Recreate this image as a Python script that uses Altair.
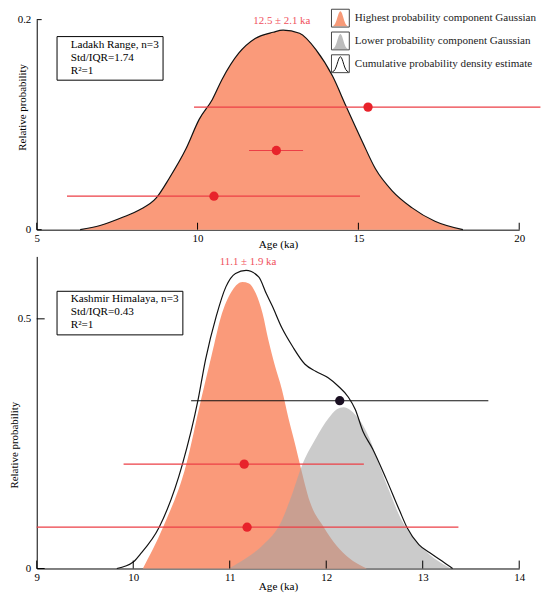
import altair as alt
import pandas as pd

FONT = "Liberation Serif"
ORANGE = "#fa9a7a"
GRAY = "#a3a3a3"
RED_LINE = "#ec3f46"
RED_DOT = "#e8232b"
RED_TEXT = "#f0505c"
BLACK = "#111111"
DOT_BLACK = "#1a0f22"

# ---------------- Top panel: Ladakh Range ----------------
top_age = [6.35, 6.97, 7.69, 8.20, 8.71, 9.12, 9.64, 10.05, 10.46, 10.76, 11.28, 11.79,
           12.35, 12.66, 13.17, 13.69, 14.20, 14.61, 15.12, 15.53, 16.05, 16.66, 17.38, 18.25]
top_prob = [0.0, 0.004, 0.012, 0.019, 0.030, 0.049, 0.077, 0.105, 0.124, 0.143, 0.168, 0.182,
            0.188, 0.190, 0.187, 0.171, 0.146, 0.118, 0.084, 0.058, 0.037, 0.021, 0.008, 0.0]
top_bar_age = [15.30, 12.45, 10.51]
top_bar_lo = [9.89, 11.60, 5.94]
top_bar_hi = [20.66, 13.28, 15.05]
top_bar_prob = [0.1167, 0.0754, 0.0319]
top_peak_label = ["12.5 ± 2.1 ka"]
top_peak_age = [12.62]
top_peak_prob = [0.199]
top_info = ["Ladakh Range, n=3" + "\u00a0" * 14, "Std/IQR=1.74", "R²=1"]
top_xticks = [5, 10, 15, 20]
top_yticks = [0, 0.2]

# ---------------- Bottom panel: Kashmir Himalaya ----------------
bot_hi_age = [10.10, 10.31, 10.55, 10.70, 10.81, 10.92, 11.03, 11.13, 11.20, 11.27, 11.34,
              11.40, 11.47, 11.54, 11.61, 11.68, 11.73, 11.83, 11.97, 12.11, 12.23, 12.42]
bot_hi_prob = [0.0, 0.083, 0.209, 0.336, 0.425, 0.511, 0.558, 0.574, 0.571, 0.551, 0.511,
               0.458, 0.405, 0.359, 0.300, 0.247, 0.207, 0.134, 0.084, 0.045, 0.022, 0.0]
bot_lo_age = [10.99, 11.18, 11.35, 11.53, 11.63, 11.75, 11.89, 12.02, 12.11, 12.18, 12.31,
              12.45, 12.55, 12.67, 12.77, 12.90, 13.07, 13.29]
bot_lo_prob = [0.0, 0.022, 0.048, 0.092, 0.140, 0.207, 0.260, 0.300, 0.319, 0.323, 0.306,
               0.260, 0.207, 0.147, 0.101, 0.062, 0.028, 0.0]
bot_cum_age = [9.83, 10.00, 10.07, 10.27, 10.51, 10.67, 10.75, 10.86, 10.96, 11.06, 11.17,
               11.30, 11.38, 11.44, 11.54, 11.65, 11.78, 11.89, 12.02, 12.12, 12.23, 12.30,
               12.38, 12.48, 12.62, 12.76, 12.84, 12.96, 13.07, 13.20, 13.31]
bot_cum_prob = [0.0, 0.013, 0.028, 0.083, 0.209, 0.336, 0.419, 0.505, 0.564, 0.591, 0.597,
                0.584, 0.550, 0.526, 0.482, 0.445, 0.409, 0.395, 0.382, 0.366, 0.343, 0.319,
                0.275, 0.240, 0.180, 0.116, 0.081, 0.048, 0.032, 0.015, 0.0]
bot_bar_age = [12.14, 11.15, 11.18]
bot_bar_lo = [10.60, 9.90, 9.00]
bot_bar_hi = [13.68, 12.39, 13.37]
bot_bar_prob = [0.336, 0.209, 0.0827]
bot_bar_kind = ["cumulative", "highest", "highest"]
bot_peak_label = ["11.1 ± 1.9 ka"]
bot_peak_age = [11.19]
bot_peak_prob = [0.614]
bot_info = ["Kashmir Himalaya, n=3" + "\u00a0" * 7, "Std/IQR=0.43", "R²=1"]
bot_xticks = [9, 10, 11, 12, 13, 14]
bot_yticks = [0, 0.5]

legend_labels = ["Highest probability component Gaussian",
                 "Lower probability component Gaussian",
                 "Cumulative probability density estimate"]
bell_keys = ["a", "b", "c"]

TOP_W, TOP_H = 487, 212
BOT_W, BOT_H = 487, 315

BELL = "M-1,-1M1,1M-0.9,0.9C-0.42,0.9 -0.28,-0.78 0,-0.78C0.28,-0.78 0.42,0.9 0.9,0.9Z"
BELL_OPEN = "M-1,-1M1,1M-0.9,0.9C-0.42,0.9 -0.28,-0.78 0,-0.78C0.28,-0.78 0.42,0.9 0.9,0.9"
LEG_X, LEG_Y, LEG_ROWPAD = 297, -11.0, 0


def x_axis(values, title_y):
    return alt.Axis(values=values, title="Age (ka)", format="d", grid=False, ticks=False,
                    labelPadding=3, labelFont=FONT, labelFontSize=11, labelColor="black",
                    titleFont=FONT, titleFontSize=11.3, titleFontWeight="normal",
                    titleColor="black", titleY=title_y, titleBaseline="middle",
                    domainColor="black", domainWidth=1, labelFlush=False, labelOverlap=False)


def y_axis(values, title_x, title_y):
    return alt.Axis(values=values, title="Relative probability", format=".1~f", grid=False,
                    ticks=False, labelPadding=6, labelFont=FONT, labelFontSize=11,
                    labelColor="black", titleFont=FONT, titleFontSize=11,
                    titleFontWeight="normal", titleColor="black", titleX=title_x,
                    titleY=title_y, titleBaseline="middle", titleAngle=270,
                    domainColor="black", domainWidth=1, labelFlush=False, labelOverlap=False)


def info_layer(lines, ly):
    lg = alt.Legend(title=None, orient="none", legendX=20, legendY=ly, symbolSize=1,
                    symbolOpacity=0, symbolStrokeWidth=0, symbolOffset=0, labelOffset=0,
                    labelFont=FONT, labelFontSize=11.3, labelColor="black", rowPadding=1.2,
                    padding=3, strokeColor="black", fillColor="white", labelLimit=400)
    return alt.Chart(pd.DataFrame({"line": lines})).mark_point(
        filled=True, opacity=1, size=1).encode(
        color=alt.Color("line:N", scale=alt.Scale(domain=lines,
                        range=["transparent"] * len(lines)), legend=lg)
    ).transform_filter("false")


# ---------------- Top chart ----------------
txs = alt.Scale(domain=[5, 20], nice=False, zero=False)
tys = alt.Scale(domain=[0, 0.2], nice=False, zero=False)
TX = x_axis(top_xticks, 15)
TY = y_axis(top_yticks, -14.7, 88)

top_curve = pd.DataFrame({"age": top_age, "prob": top_prob})
top_bars = pd.DataFrame({"age": top_bar_age, "lo": top_bar_lo, "hi": top_bar_hi,
                         "prob": top_bar_prob})
top_peak = pd.DataFrame({"age": top_peak_age, "prob": top_peak_prob, "label": top_peak_label})

t_area = alt.Chart(top_curve).mark_area(color=ORANGE, interpolate="monotone").encode(
    x=alt.X("age:Q", scale=txs, axis=TX), y=alt.Y("prob:Q", scale=tys, axis=TY))
t_line = alt.Chart(top_curve).mark_line(color=BLACK, strokeWidth=1.2, interpolate="monotone").encode(
    x=alt.X("age:Q", scale=txs, axis=TX), y=alt.Y("prob:Q", scale=tys, axis=TY))
t_rules = alt.Chart(top_bars).mark_rule(color=RED_LINE, strokeWidth=1.2).encode(
    x=alt.X("lo:Q", scale=txs, axis=TX), x2="hi:Q", y=alt.Y("prob:Q", scale=tys, axis=TY))
t_dots = alt.Chart(top_bars).mark_circle(color=RED_DOT, size=88, opacity=1).encode(
    x=alt.X("age:Q", scale=txs, axis=TX), y=alt.Y("prob:Q", scale=tys, axis=TY))
t_text = alt.Chart(top_peak).mark_text(font=FONT, fontSize=11, color=RED_TEXT,
                                       baseline="middle", align="center").encode(
    x=alt.X("age:Q", scale=txs, axis=TX), y=alt.Y("prob:Q", scale=tys, axis=TY),
    text="label:N")
t_xt = alt.Chart(pd.DataFrame({"t": top_xticks})).mark_rule(color="black", strokeWidth=1).encode(
    x=alt.X("t:Q", scale=txs, axis=TX), y=alt.value(TOP_H - 7), y2=alt.value(TOP_H))
t_yt = alt.Chart(pd.DataFrame({"t": top_yticks})).mark_rule(color="black", strokeWidth=1).encode(
    y=alt.Y("t:Q", scale=tys, axis=TY), x=alt.value(0), x2=alt.value(5))

# legend: bells (fill + shape + stroke) carry the labels
bell_lg = alt.Legend(title=None, orient="none", legendX=LEG_X, legendY=LEG_Y, symbolSize=324,
                     symbolStrokeWidth=1, labelFont=FONT, labelFontSize=11.2,
                     labelColor="#222222", labelOffset=5, rowPadding=LEG_ROWPAD, padding=0,
                     labelLimit=400)
t_bells = alt.Chart(pd.DataFrame({"key": legend_labels})).mark_point(
    filled=True, opacity=1, size=324, strokeWidth=1).encode(
    fill=alt.Fill("key:N", scale=alt.Scale(domain=legend_labels,
                  range=["#f79a78", "#bcbcbc", "transparent"]), legend=bell_lg),
    shape=alt.Shape("key:N", scale=alt.Scale(domain=legend_labels,
                    range=[BELL, BELL, BELL_OPEN]), legend=bell_lg),
    stroke=alt.Stroke("key:N", scale=alt.Scale(domain=legend_labels,
                      range=["transparent", "transparent", BLACK]), legend=bell_lg),
).transform_filter("false")

# legend: square frames around the icons (no labels)
frame_lg = alt.Legend(title=None, orient="none", legendX=LEG_X, legendY=LEG_Y,
                      symbolType="M-1,-1L1,-1L1,1L-1,1Z", symbolSize=324, symbolStrokeWidth=1,
                      symbolFillColor="transparent", labelFont=FONT, labelFontSize=11.2,
                      labelExpr="''", labelOffset=5, rowPadding=LEG_ROWPAD, padding=0)
t_frames = alt.Chart(pd.DataFrame({"entry": bell_keys})).mark_point(
    filled=False, opacity=1, size=324, strokeWidth=1).encode(
    color=alt.Color("entry:N", scale=alt.Scale(domain=bell_keys,
                    range=["#444444", "#444444", "#444444"]), legend=frame_lg)
).transform_filter("false")

t_info = info_layer(top_info, 16.6)

top = alt.layer(t_area, t_line, t_rules, t_dots, t_text, t_xt, t_yt, t_bells, t_frames,
                t_info).resolve_scale(color="independent").properties(width=TOP_W, height=TOP_H)

# ---------------- Bottom chart ----------------
bxs = alt.Scale(domain=[9, 14], nice=False, zero=False)
bys = alt.Scale(domain=[0, 0.625], nice=False, zero=False)
BX = x_axis(bot_xticks, 18)
BY = y_axis(bot_yticks, -22.5, 190)

b_hi = pd.DataFrame({"age": bot_hi_age, "prob": bot_hi_prob})
b_lo = pd.DataFrame({"age": bot_lo_age, "prob": bot_lo_prob})
b_cum = pd.DataFrame({"age": bot_cum_age, "prob": bot_cum_prob})
b_bars = pd.DataFrame({"age": bot_bar_age, "lo": bot_bar_lo, "hi": bot_bar_hi,
                       "prob": bot_bar_prob, "kind": bot_bar_kind})
b_peak = pd.DataFrame({"age": bot_peak_age, "prob": bot_peak_prob, "label": bot_peak_label})

b_area_hi = alt.Chart(b_hi).mark_area(color=ORANGE, interpolate="monotone").encode(
    x=alt.X("age:Q", scale=bxs, axis=BX), y=alt.Y("prob:Q", scale=bys, axis=BY))
b_area_lo = alt.Chart(b_lo).mark_area(color=GRAY, opacity=0.57, interpolate="monotone").encode(
    x=alt.X("age:Q", scale=bxs, axis=BX), y=alt.Y("prob:Q", scale=bys, axis=BY))
b_line = alt.Chart(b_cum).mark_line(color=BLACK, strokeWidth=1.2, interpolate="monotone").encode(
    x=alt.X("age:Q", scale=bxs, axis=BX), y=alt.Y("prob:Q", scale=bys, axis=BY))
b_rules = alt.Chart(b_bars).mark_rule(strokeWidth=1.2).encode(
    x=alt.X("lo:Q", scale=bxs, axis=BX), x2="hi:Q", y=alt.Y("prob:Q", scale=bys, axis=BY),
    color=alt.Color("kind:N", scale=alt.Scale(domain=["cumulative", "highest"],
                    range=[BLACK, RED_LINE]), legend=None))
b_dots = alt.Chart(b_bars).mark_circle(size=88, opacity=1).encode(
    x=alt.X("age:Q", scale=bxs, axis=BX), y=alt.Y("prob:Q", scale=bys, axis=BY),
    color=alt.Color("kind:N", scale=alt.Scale(domain=["cumulative", "highest"],
                    range=[DOT_BLACK, RED_DOT]), legend=None))
b_text = alt.Chart(b_peak).mark_text(font=FONT, fontSize=11, color=RED_TEXT,
                                     baseline="middle", align="center").encode(
    x=alt.X("age:Q", scale=bxs, axis=BX), y=alt.Y("prob:Q", scale=bys, axis=BY),
    text="label:N")
b_xt = alt.Chart(pd.DataFrame({"t": bot_xticks})).mark_rule(color="black", strokeWidth=1).encode(
    x=alt.X("t:Q", scale=bxs, axis=BX), y=alt.value(BOT_H - 8), y2=alt.value(BOT_H))
b_yt = alt.Chart(pd.DataFrame({"t": bot_yticks})).mark_rule(color="black", strokeWidth=1).encode(
    y=alt.Y("t:Q", scale=bys, axis=BY), x=alt.value(0), x2=alt.value(8))
b_info = info_layer(bot_info, 34.7)

bottom = alt.layer(b_area_hi, b_area_lo, b_line, b_rules, b_dots, b_text, b_xt, b_yt,
                   b_info).resolve_scale(color="independent").properties(width=BOT_W, height=BOT_H)

chart = alt.vconcat(top, bottom, spacing=27, bounds="flush").resolve_scale(
    fill="independent", stroke="independent", shape="independent", color="independent"
).resolve_legend(
    fill="independent", stroke="independent", shape="independent", color="independent"
).properties(
    padding={"top": -2.0, "left": 0, "right": 0, "bottom": 0}
).configure(font=FONT).configure_view(stroke=None).configure_legend(
    labelFont=FONT, labelFontSize=11.2
).configure_axis(titleFontWeight="normal", labelFont=FONT, titleFont=FONT)

chart.save("out.html", embed_options={"renderer": "svg", "actions": False})
